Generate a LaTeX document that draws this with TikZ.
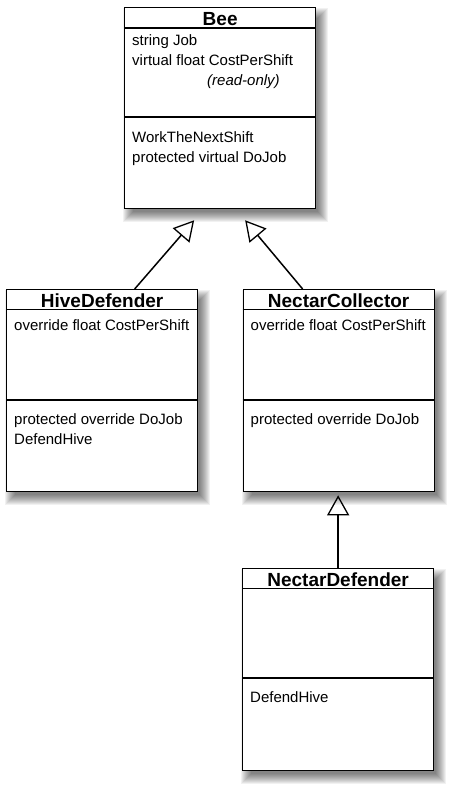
\documentclass[tikz,border=0pt]{standalone}
\usepackage{fontspec}
\setmainfont{Liberation Sans}
\usetikzlibrary{arrows.meta,backgrounds}
\begin{document}
\begin{tikzpicture}[x=1pt,y=-1pt,
  classbox/.style={draw=black, line width=1.3pt, fill=white, anchor=north west, inner sep=0pt, minimum width=191pt},
  classtitle/.style={anchor=base, font=\fontsize{19}{21}\selectfont\bfseries, inner sep=0pt},
  member/.style={anchor=base west, font=\fontsize{15}{18}\selectfont, inner sep=0pt},
  sepline/.style={line width=1.3pt},
  inherit/.style={line width=1.5pt, -{Triangle[open, length=20pt, width=22pt, line width=1.3pt]}},
]
\useasboundingbox (0,0) rectangle (453,790);

% class boxes
\node[classbox, minimum height=201pt] (bee) at (124,7) {};
\node[classbox, minimum height=202pt] (hive) at (6,289) {};
\node[classbox, minimum height=202pt] (nc) at (242.5,289) {};
\node[classbox, minimum height=202pt] (nd) at (242,568) {};

% Bee
\node[classtitle] (beeT) at ([yshift=-18pt]bee.north) {Bee};
\draw[sepline] ([yshift=-21pt]bee.north west) -- ([yshift=-21pt]bee.north east);
\node[member] (beeA1) at ([shift={(8,38)}]bee.north west) {string Job};
\node[member] (beeA2) at ([shift={(8,58)}]bee.north west) {virtual float CostPerShift};
\node[member, font=\fontsize{15}{18}\selectfont\itshape] (beeA3) at ([shift={(83,78)}]bee.north west) {(read-only)};
\draw[sepline] ([yshift=-110pt]bee.north west) -- ([yshift=-110pt]bee.north east);
\node[member] (beeM1) at ([shift={(8,135)}]bee.north west) {WorkTheNextShift};
\node[member] (beeM2) at ([shift={(8,155)}]bee.north west) {protected virtual DoJob};

% HiveDefender
\node[classtitle] (hiveT) at ([yshift=-18pt]hive.north) {HiveDefender};
\draw[sepline] ([yshift=-20.5pt]hive.north west) -- ([yshift=-20.5pt]hive.north east);
\node[member] (hiveA1) at ([shift={(8,41)}]hive.north west) {override float CostPerShift};
\draw[sepline] ([yshift=-111pt]hive.north west) -- ([yshift=-111pt]hive.north east);
\node[member] (hiveM1) at ([shift={(8,135)}]hive.north west) {protected override DoJob};
\node[member] (hiveM2) at ([shift={(8,155)}]hive.north west) {DefendHive};

% NectarCollector
\node[classtitle] (ncT) at ([yshift=-18pt]nc.north) {NectarCollector};
\draw[sepline] ([yshift=-20.5pt]nc.north west) -- ([yshift=-20.5pt]nc.north east);
\node[member] (ncA1) at ([shift={(8,41)}]nc.north west) {override float CostPerShift};
\draw[sepline] ([yshift=-111pt]nc.north west) -- ([yshift=-111pt]nc.north east);
\node[member] (ncM1) at ([shift={(8,135)}]nc.north west) {protected override DoJob};

% NectarDefender
\node[classtitle] (ndT) at ([yshift=-18pt]nd.north) {NectarDefender};
\draw[sepline] ([yshift=-20.5pt]nd.north west) -- ([yshift=-20.5pt]nd.north east);
\draw[sepline] ([yshift=-110pt]nd.north west) -- ([yshift=-110pt]nd.north east);
\node[member] (ndM1) at ([shift={(8,134)}]nd.north west) {DefendHive};

% inheritance arrows
\draw[inherit] ([xshift=32.5pt]hive.north) -- ([xshift=-26pt,yshift=-11pt]bee.south);
\draw[inherit] ([xshift=-36pt]nc.north) -- ([xshift=25pt,yshift=-11pt]bee.south);
\draw[inherit] (nd.north) -- ([yshift=-3pt]nd.north |- nc.south);

% white page and soft drop shadows behind everything
\begin{pgfonlayer}{background}
\fill[white] (0,0) rectangle (453,790);
\foreach \n in {bee,hive,nc,nd}{
  \foreach \i in {0,...,10}{
    \pgfmathsetmacro\e{\i-3}
    \fill[black, opacity=0.055]
      ([xshift={(6-\e)*1pt}, yshift={-(8-\e)*1pt}]\n.north west)
      rectangle ([xshift={(5+\e)*1pt}, yshift={-(6+\e)*1pt}]\n.south east);
  }
}
\end{pgfonlayer}
\end{tikzpicture}
\end{document}
